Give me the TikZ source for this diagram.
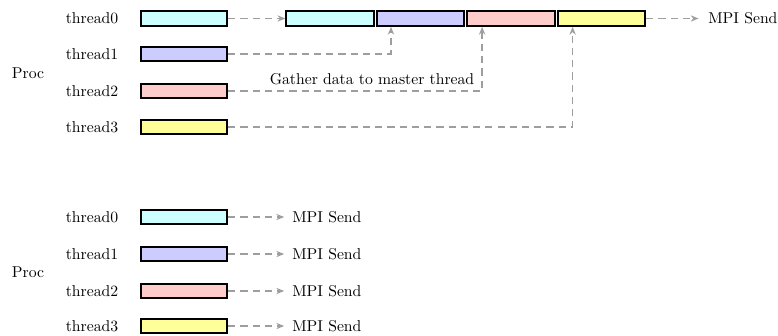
\documentclass[tikz,border=0pt]{standalone}
\usetikzlibrary{arrows.meta}
\definecolor{cA}{HTML}{CCFFFF}
\definecolor{cB}{HTML}{CCCCFF}
\definecolor{cC}{HTML}{FFCCCC}
\definecolor{cD}{HTML}{FFFF99}
\begin{document}
\begin{tikzpicture}[x=0.637pt,y=-0.637pt,
  buf/.style={draw=black,line width=1.2pt,minimum width=55pt,minimum height=9.4pt,inner sep=0pt},
  wbuf/.style={buf,minimum width=55.6pt},
  lbl/.style={inner sep=0pt},
  send/.style={inner sep=0pt,anchor=west},
  flow/.style={draw=black!38,line width=0.95pt,dash pattern=on 4.6pt off 3.2pt,-{Stealth[length=5pt,width=4pt]}}]
\useasboundingbox (0,0) rectangle (778,336);
% top
\node[lbl] (p1) at (28,73) {Proc};
\node[lbl] (l0) at (92,18.5) {thread0};
\node[lbl] (l1) at (92,54) {thread1};
\node[lbl] (l2) at (92,91) {thread2};
\node[lbl] (l3) at (92,127) {thread3};
\node[buf,fill=cA] (t0) at (184,18.5) {};
\node[buf,fill=cB] (t1) at (184,54) {};
\node[buf,fill=cC] (t2) at (184,91) {};
\node[buf,fill=cD] (t3) at (184,127) {};
\node[wbuf,fill=cA] (m0) at (330,18.5) {};
\node[wbuf,fill=cB] (m1) at (420.5,18.5) {};
\node[wbuf,fill=cC] (m2) at (511,18.5) {};
\node[wbuf,fill=cD] (m3) at (601.5,18.5) {};
\node[send] (s0) at (708,18.5) {MPI Send};
\node[lbl] (g) at (372,79) {Gather data to master thread};
\coordinate (a1) at ([xshift=9.6pt]m1.south west);
\coordinate (a2) at ([xshift=10pt]m2.south west);
\coordinate (a3) at ([xshift=10pt]m3.south west);
\draw[flow] (t0.east) -- (m0.west);
\draw[flow] (t1.east) -| (a1);
\draw[flow] (t2.east) -| (a2);
\draw[flow] (t3.east) -| (a3);
\draw[flow] (m3.east) -- ([xshift=-6pt]s0.west);
% bottom
\node[lbl] (p2) at (28,272.5) {Proc};
\node[lbl] (k0) at (92,217) {thread0};
\node[lbl] (k1) at (92,254) {thread1};
\node[lbl] (k2) at (92,291) {thread2};
\node[lbl] (k3) at (92,326) {thread3};
\node[buf,fill=cA] (b0) at (184,217) {};
\node[buf,fill=cB] (b1) at (184,254) {};
\node[buf,fill=cC] (b2) at (184,291) {};
\node[buf,fill=cD] (b3) at (184,326) {};
\node[send] (r0) at (292,217) {MPI Send};
\node[send] (r1) at (292,254) {MPI Send};
\node[send] (r2) at (292,291) {MPI Send};
\node[send] (r3) at (292,326) {MPI Send};
\draw[flow] (b0.east) -- ([xshift=-5pt]r0.west);
\draw[flow] (b1.east) -- ([xshift=-5pt]r1.west);
\draw[flow] (b2.east) -- ([xshift=-5pt]r2.west);
\draw[flow] (b3.east) -- ([xshift=-5pt]r3.west);
\end{tikzpicture}
\end{document}
